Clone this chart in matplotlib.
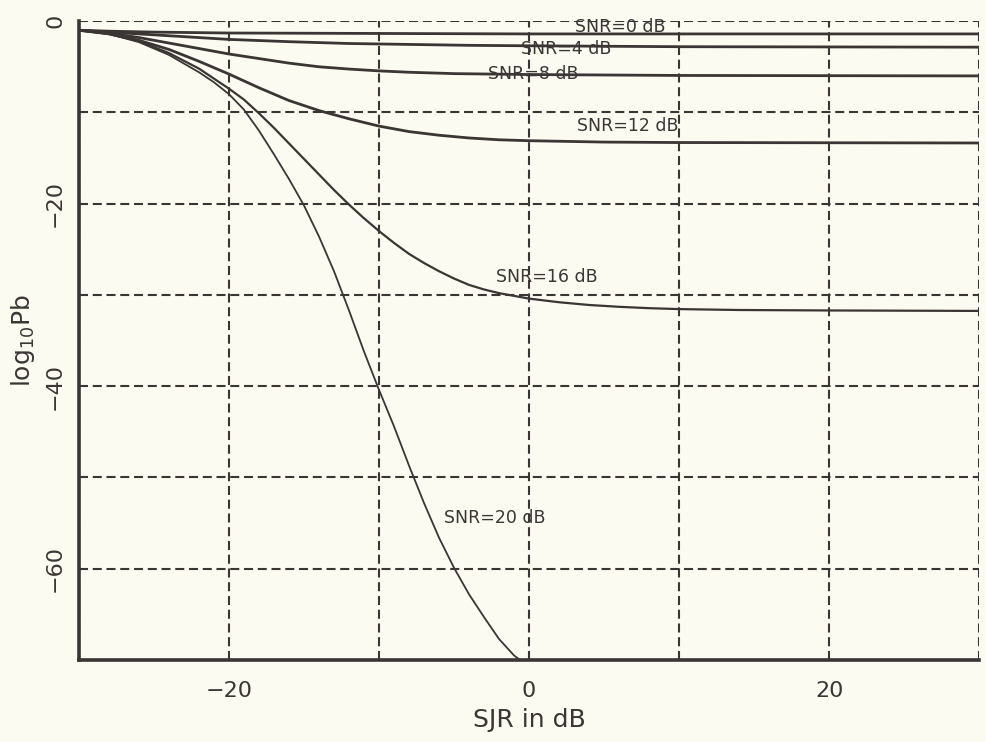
import matplotlib
matplotlib.use("Agg")
import matplotlib.pyplot as plt

plt.rcParams['lines.scale_dashes'] = False
plt.rcParams['font.family'] = ['DejaVu Sans']

# ---- data ----
snr0_x = [-30, -28, -25, -20, -10, 0, 30]
snr0_y = [-1.0, -1.1, -1.2, -1.3, -1.35, -1.4, -1.4]

snr4_x = [-30, -28, -25, -22, -20, -16, -12, -8, -4, 0, 10, 30]
snr4_y = [-1.0, -1.2, -1.5, -1.8, -2.0, -2.25, -2.45, -2.55, -2.65, -2.7, -2.8, -2.85]

snr8_x = [-30, -28, -26, -24, -22, -20, -18, -16, -14, -12, -10, -8, -5, 0, 10, 30]
snr8_y = [-1.0, -1.3, -1.8, -2.4, -3.0, -3.6, -4.1, -4.6, -5.0, -5.25, -5.45, -5.6, -5.75, -5.85,
          -5.95, -6.0]

snr12_x = [-30, -28, -26, -24, -22, -20, -18, -16, -14, -12, -10, -8, -6, -4, -2, 0, 5, 10, 30]
snr12_y = [-1.0, -1.4, -2.1, -3.1, -4.4, -5.8, -7.3, -8.7, -9.8, -10.7, -11.5, -12.1, -12.5, -12.8,
           -13.0, -13.1, -13.25, -13.3, -13.35]

snr16_x = [-30, -28, -26, -24, -22, -20, -19, -18, -17, -16, -15, -14, -13, -12, -11, -10, -9, -8,
           -7, -6, -5, -4, -3, -2, 0, 2, 4, 6, 8, 10, 14, 20, 30]
snr16_y = [-1.0, -1.4, -2.2, -3.5, -5.2, -7.4, -8.6, -10.1, -11.7, -13.4, -15.1, -16.8, -18.5,
           -20.1, -21.6, -23.0, -24.3, -25.5, -26.5, -27.4, -28.2, -28.9, -29.4, -29.8, -30.4,
           -30.8, -31.1, -31.3, -31.45, -31.55, -31.65, -31.7, -31.75]

snr20_x = [-30, -28, -26, -24, -22, -21, -20, -19, -18, -17, -16, -15, -14, -13, -12, -11, -10,
           -9, -8, -7, -6, -5, -4, -3, -2, -1, -0.6]
snr20_y = [-1.0, -1.4, -2.3, -3.7, -5.6, -6.7, -8.0, -9.7, -12.0, -14.6, -17.3, -20.2, -23.6,
           -27.4, -31.7, -36.2, -40.4, -44.4, -48.7, -52.8, -56.6, -59.9, -62.8, -65.3, -67.7,
           -69.5, -70.0]

labels = ["SNR=0 dB", "SNR=4 dB", "SNR=8 dB", "SNR=12 dB", "SNR=16 dB", "SNR=20 dB"]
label_x = [6.1, 2.5, 0.3, 6.6, 1.2, -2.3]
label_y = [-0.6, -3.0, -5.8, -11.5, -28.0, -54.4]

xticks = [-30, -20, -10, 0, 10, 20, 30]
xticklabels = ["", "\u221220", "", "0", "", "20", ""]
yticks = [-70, -60, -50, -40, -30, -20, -10, 0]
yticklabels = ["", "\u221260", "", "\u221240", "", "\u221220", "", "0"]

# ---- drawing ----
ink = "#3b3536"
bg = "#fbfbf1"

fig = plt.figure(figsize=(9.87, 7.42), dpi=100, facecolor=bg)
ax = fig.add_axes([0.080, 0.1105, 0.912, 0.861])
ax.set_facecolor(bg)

series = [(snr0_x, snr0_y), (snr4_x, snr4_y), (snr8_x, snr8_y),
          (snr12_x, snr12_y), (snr16_x, snr16_y), (snr20_x, snr20_y)]
widths = [2.0, 2.0, 2.0, 2.0, 1.6, 1.3]
for (xs, ys), lw in zip(series, widths):
    ax.plot(xs, ys, color=ink, lw=lw, zorder=3, solid_joinstyle="round")

for t, x, y in zip(labels, label_x, label_y):
    ax.text(x, y, t, ha="center", va="center", fontsize=12.5, color=ink, zorder=4)

ax.set_xlim(-30, 30)
ax.set_ylim(-70, 0)
ax.set_xticks(xticks)
ax.set_xticklabels(xticklabels)
ax.set_yticks(yticks)
ax.set_yticklabels(yticklabels, rotation=90, va="center")
ax.tick_params(length=0, labelsize=16, colors=ink)
ax.tick_params(axis="x", pad=15)
ax.tick_params(axis="y", pad=10)

ax.grid(True, color=ink, lw=1.5, linestyle=(0, (6.5, 3.4)), zorder=1)
for s in ["top", "right"]:
    ax.spines[s].set_visible(False)
for s in ["left", "bottom"]:
    ax.spines[s].set_color(ink)
    ax.spines[s].set_linewidth(2.6)
    ax.spines[s].set_zorder(5)

ax.set_xlabel("SJR in dB", fontsize=18, color=ink, labelpad=5)
ax.set_ylabel(r"$\mathregular{log_{10}Pb}$", fontsize=18, color=ink, labelpad=6)

fig.savefig("out.png", dpi=100, facecolor=bg)
